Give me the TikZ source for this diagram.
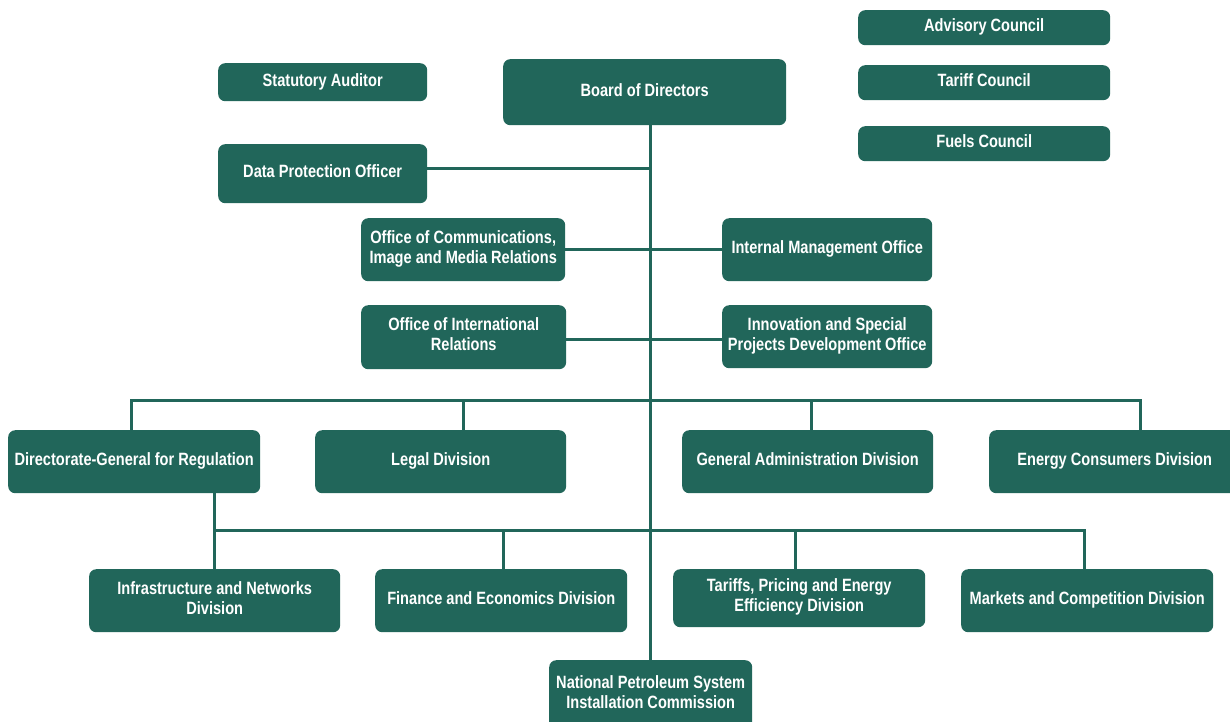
\documentclass[tikz,border=0pt]{standalone}
\usepackage{fontspec}
\newfontfamily\orgfont{Liberation Sans}[FakeStretch=0.82]
\definecolor{orggreen}{HTML}{21665A}
\tikzset{
  orgbox/.style={fill=orggreen, rounded corners=7pt, inner sep=0pt, text=white,
                 align=center, font=\orgfont\bfseries\fontsize{17.8}{20}\selectfont,
                 execute at begin node=\strut, execute at end node=\strut},
  boxsize/.style 2 args={minimum width=#1pt, minimum height=#2pt},
  link/.style={line width=3pt, color=orggreen}}

\begin{document}
\begin{tikzpicture}[x=1pt, y=-1pt,
                    every node/.append style={anchor=north west}]
  \useasboundingbox (0,0) rectangle (1230,721);
  \clip (0,0) rectangle (1230,721);
  % councils and top level
  \node[orgbox, boxsize={252}{35}] (advisory) at (858,10) {Advisory Council};
  \node[orgbox, boxsize={252}{35}] (tariffcl) at (858,65) {Tariff Council};
  \node[orgbox, boxsize={252}{35}] (fuels) at (858,126) {Fuels Council};
  \node[orgbox, boxsize={209}{38}] (auditor) at (218,63) {Statutory Auditor};
  \node[orgbox, boxsize={283}{66}] (board) at (503,59) {Board of Directors};
  \node[orgbox, boxsize={209}{59}] (dpo) at (218,144) {Data Protection Officer};
  % offices
  \node[orgbox, boxsize={204}{63}] (comms) at (361,218)
    {Office of Communications,\\ Image and Media Relations};
  \node[orgbox, boxsize={210}{63}] (intmgmt) at (722,218) {Internal Management Office};
  \node[orgbox, boxsize={205}{64}] (intrel) at (361,305)
    {Office of International\\ Relations};
  \node[orgbox, boxsize={210}{63}] (innov) at (722,305)
    {Innovation and Special\\ Projects Development Office};
  % divisions
  \node[orgbox, boxsize={252}{63}] (dgr) at (8,430) {Directorate-General for Regulation};
  \node[orgbox, boxsize={251}{63}] (legal) at (315,430) {Legal Division};
  \node[orgbox, boxsize={251}{63}] (genadmin) at (682,430) {General Administration Division};
  \node[orgbox, boxsize={251}{63}] (consumers) at (989,430) {Energy Consumers Division};
  \node[orgbox, boxsize={251}{63}] (infra) at (89,569)
    {Infrastructure and Networks\\ Division};
  \node[orgbox, boxsize={252}{63}] (finance) at (375,569) {Finance and Economics Division};
  \node[orgbox, boxsize={252}{58}] (tariffs) at (673,569)
    {Tariffs, Pricing and Energy\\ Efficiency Division};
  \node[orgbox, boxsize={252}{63}] (markets) at (961,569) {Markets and Competition Division};
  \node[orgbox, boxsize={203}{70}] (npsic) at (549,660)
    {National Petroleum System\\ Installation Commission};

  % connectors
  \coordinate (upbus) at (0,400);
  \coordinate (lowbus) at (0,530);
  \draw[link] (board.south -| npsic.north) -- (npsic.north);
  \draw[link] ([yshift=5.5pt]dpo.east) -- ([yshift=5.5pt]dpo.east -| npsic.north);
  \draw[link] (comms.east) -- (intmgmt.west);
  \draw[link] ([yshift=-2pt]intrel.east) -- ([yshift=-2pt]intrel.east -| innov.west);
  \draw[link] ([xshift=-3pt]dgr.north) -- ([xshift=-3pt]dgr.north |- upbus)
    -- ([xshift=25.5pt]consumers.north |- upbus) -- ([xshift=25.5pt]consumers.north);
  \draw[link] ([xshift=22.5pt]legal.north) -- ([xshift=22.5pt]legal.north |- upbus);
  \draw[link] ([xshift=3.5pt]genadmin.north) -- ([xshift=3.5pt]genadmin.north |- upbus);
  \draw[link] (dgr.south -| infra.north) -- (infra.north);
  \draw[link] (infra.north |- lowbus) -- ([xshift=-3pt]markets.north |- lowbus)
    -- ([xshift=-3pt]markets.north);
  \draw[link] ([xshift=2pt]finance.north) -- ([xshift=2pt]finance.north |- lowbus);
  \draw[link] ([xshift=-4pt]tariffs.north) -- ([xshift=-4pt]tariffs.north |- lowbus);
\end{tikzpicture}
\end{document}
